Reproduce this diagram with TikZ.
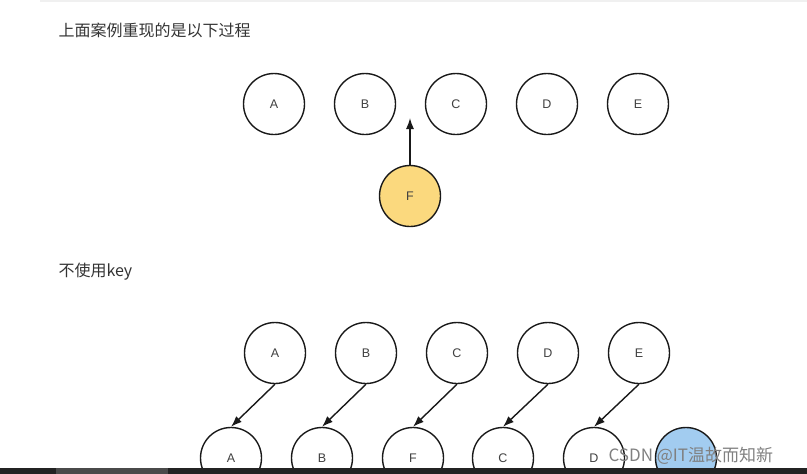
\documentclass[tikz,border=0pt]{standalone}
\usepackage{fontspec}
\setmainfont{Liberation Sans}
\newfontfamily\cjk{Noto Sans CJK SC}
\usetikzlibrary{arrows.meta, positioning}
\definecolor{fyellow}{HTML}{FBD97E}
\definecolor{nblue}{HTML}{A2CCF0}
\definecolor{headtext}{HTML}{333333}
\definecolor{bardark}{HTML}{232323}
\definecolor{bargrey}{HTML}{4A4A4A}
\newcommand{\vnode}[5]{
	\node[vcircle, fill=#5] (#1) at (#2, #3) {#4};
}
\newcommand{\vrow}[6]{
	\vnode{#1A}{#2}{#3}{#4}{white}
	\vnode{#1B}{#2+91}{#3}{#5}{white}
	\vnode{#1C}{#2+182}{#3}{#6}{white}
}

\begin{document}
\begin{tikzpicture}[x=1pt, y=-1pt,
	vcircle/.style={circle, draw=black!90, line width=1.4pt, minimum size=61pt, inner sep=0pt, font=\fontsize{12.5}{14}\selectfont, text=black!75},
	link/.style={-{Latex[length=11pt,width=8pt]}, line width=1.4pt, black!90},
	heading/.style={anchor=west, font=\cjk\fontsize{16}{18}\selectfont, text=headtext}]
	\useasboundingbox (0,0) rectangle (807,474);
	\draw[black!6, line width=1.5pt] (40,0.75) -- (807,0.75);
	\node[heading] (title1) at (55,30) {上面案例重现的是以下过程};
	% Insert F between B and C
	\vrow{top}{274}{104}{A}{B}{C}
	\vnode{topD}{547}{104}{D}{white}
	\vnode{topE}{638}{104}{E}{white}
	\vnode{newF}{410}{196}{F}{fyellow}
	\coordinate (gap) at (410,118);
	\draw[link] (newF.north) -- (gap);
	% Without key
	\node[heading] (title2) at (55,272) {不使用key};
	\vrow{old}{275}{353}{A}{B}{C}
	\vnode{oldD}{548}{353}{D}{white}
	\vnode{oldE}{639}{353}{E}{white}
	\vrow{new}{231}{458}{A}{B}{F}
	\vnode{newD}{503}{458}{C}{white}
	\vnode{newE}{594}{458}{D}{white}
	\vnode{newX}{686}{458}{}{nblue}
	\draw[link] (oldA.south) -- (newA.north);
	\draw[link] (oldB.south) -- (newB.north);
	\draw[link] (oldC.south) -- (newC.north);
	\draw[link] (oldD.south) -- (newD.north);
	\draw[link] (oldE.south) -- (newE.north);
	\node[anchor=west, font=\cjk\fontsize{17}{19}\selectfont, text=black!50] (mark) at (605,456) {CSDN @IT温故而知新};
	\fill[bardark] (0,468) rectangle (807,474);
	\fill[bargrey] (56,468) rectangle (168,474);
\end{tikzpicture}
\end{document}
